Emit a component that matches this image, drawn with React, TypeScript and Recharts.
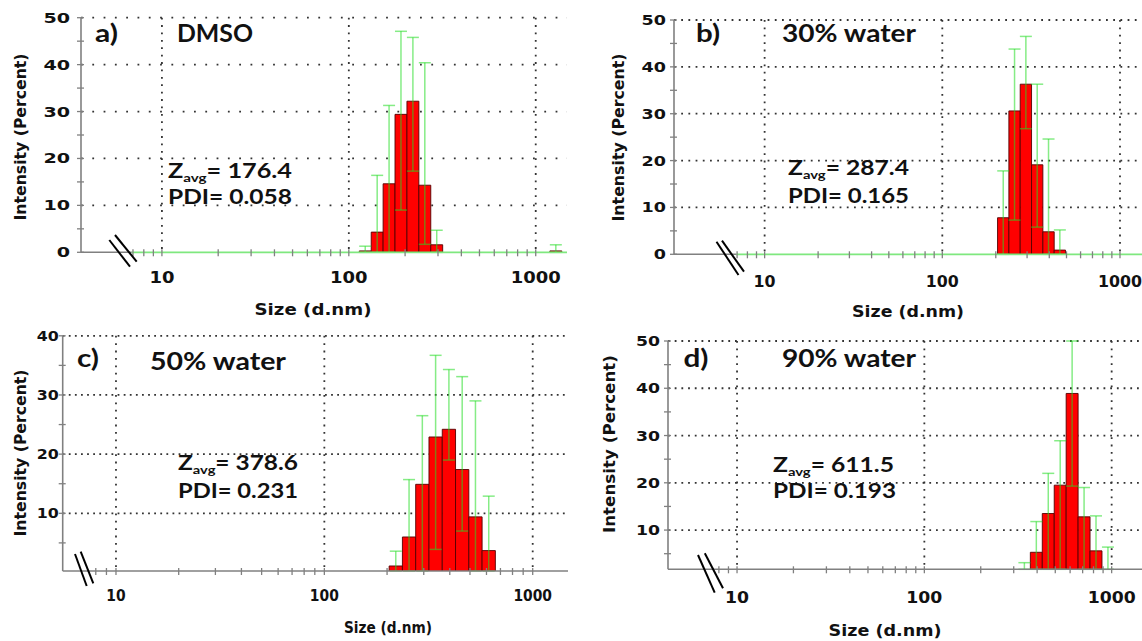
import React from 'react';
import {
  ComposedChart,
  XAxis,
  YAxis,
  CartesianGrid,
  ReferenceArea,
  ReferenceLine,
  Scatter,
  ErrorBar,
} from 'recharts';

const PAGE_W = 1142;
const PAGE_H = 641;

// Malvern size classes: every bin is this factor wider than the one before
const BIN_RATIO = 1.1581;
const HALF_BIN = Math.sqrt(BIN_RATIO);

// a) DMSO  (bin centre in nm, intensity %, error bar ends %)
const dmsoSizes = [122.4, 141.8, 164.2, 190.1, 220.2, 255.0, 295.3, 1281];
const dmsoIntensity = [0.3, 4.3, 14.6, 29.4, 32.2, 14.3, 1.6, 0.3];
const dmsoErrLow = [-0.7, -7.8, -2.1, 9.0, 17.3, 1.7, -1.5, -1.0];
const dmsoErrHigh = [1.3, 16.4, 31.3, 47.1, 45.8, 40.4, 4.7, 1.6];

// b) 30% water
const w30Sizes = [220.2, 255.0, 295.3, 342.0, 396.1, 458.7];
const w30Intensity = [7.8, 30.6, 36.3, 19.1, 4.8, 0.9];
const w30ErrLow = [-2.2, 7.3, 26.8, 5.8, -15.0, -3.4];
const w30ErrHigh = [17.8, 43.8, 46.5, 36.3, 24.6, 5.2];

// c) 50% water
const w50Sizes = [220.2, 255.0, 295.3, 342.0, 396.1, 458.7, 531.2, 615.1];
const w50Intensity = [1.1, 6.0, 14.9, 22.9, 24.2, 17.4, 9.4, 3.7];
const w50ErrLow = [-1.3, -3.7, -1.0, 3.9, 19.0, 7.0, -10.2, -5.5];
const w50ErrHigh = [3.6, 15.7, 26.5, 36.7, 34.3, 33.1, 29.0, 12.9];

// d) 90% water
const w90Sizes = [342.0, 396.1, 458.7, 531.2, 615.1, 712.4, 825.0, 955.4];
const w90Intensity = [0.5, 5.3, 13.5, 19.5, 38.9, 12.8, 5.6, 0.5];
const w90ErrLow = [-2.1, -1.2, -1.0, -1.0, 19.3, -1.0, -1.8, -5.4];
const w90ErrHigh = [3.1, 11.8, 22.0, 28.9, 56.0, 19.0, 13.0, 6.4];

const xTicksFrom7 = [7, 8, 9, 10, 20, 30, 40, 50, 60, 70, 80, 90, 100, 200, 300, 400, 500, 600, 700, 800, 900, 1000];
const xTicksFrom8 = [8, 9, 10, 20, 30, 40, 50, 60, 70, 80, 90, 100, 200, 300, 400, 500, 600, 700, 800, 900, 1000];
const xTickLabels = [10, 100, 1000];
const xGrid = [10, 100, 1000];
const yTicks0to50 = [0, 5, 10, 15, 20, 25, 30, 35, 40, 45, 50];
const yTicks5to50 = [5, 10, 15, 20, 25, 30, 35, 40, 45, 50];
const yTicks5to40 = [5, 10, 15, 20, 25, 30, 35, 40];
const yGrid50 = [10, 20, 30, 40, 50];
const yGrid40 = [10, 20, 30, 40];

// where the instrument's green zero line starts, right after the axis break
const GREEN_FROM = 6.9;

const AXIS = '#808080';
const DOTS = '#333';
const BAR = '#ff0000';
const BAR_EDGE = '#550000';
const ERR = '#22dd22';
const BASE_GREEN = '#7fe87f';
const LABEL_FONT = 'DejaVu Sans';
const NOTE_FONT = 'Lato';

type Txt = [number, number, number];

type Panel = {
  tag: string;
  title: string;
  zavg: string;
  pdi: string;
  sizes: number[];
  intensity: number[];
  errLow: number[];
  errHigh: number[];
  xTicks: number[];
  yTicks: number[];
  yGrid: number[];
  xDomain: [number, number];
  yDomain: [number, number];
  plot: { left: number; right: number; top: number; bottom: number };
  greenBase: boolean;
  xCw: number;
  yCw: number;
  xLabelDy: number;
  yGap: number;
  dotH: number;
  text: { tag: Txt; title: Txt; z: Txt; pdi: Txt; xTitle: Txt; yTitle: Txt };
  breaks: number[][];
};

const panels: Panel[] = [
  {
    tag: 'a)', title: 'DMSO', zavg: '176.4', pdi: '0.058',
    sizes: dmsoSizes, intensity: dmsoIntensity, errLow: dmsoErrLow, errHigh: dmsoErrHigh,
    xTicks: xTicksFrom7, yTicks: yTicks0to50, yGrid: yGrid50,
    xDomain: [3.69, 1470], yDomain: [0, 50],
    plot: { left: 81, right: 567, top: 17.7, bottom: 252.3 },
    greenBase: true, xCw: 12.5, yCw: 13.3, xLabelDy: 31, yGap: 11, dotH: 11.3,
    text: {
      tag: [95, 42, 23], title: [177, 42, 76], z: [168, 178, 124], pdi: [168, 204, 124],
      xTitle: [313, 315, 117], yTitle: [21, 137, 167],
    },
    breaks: [[109.3, 240, 130, 266.7], [115, 235, 136.7, 261.7]],
  },
  {
    tag: 'b)', title: '30% water', zavg: '287.4', pdi: '0.165',
    sizes: w30Sizes, intensity: w30Intensity, errLow: w30ErrLow, errHigh: w30ErrHigh,
    xTicks: xTicksFrom7, yTicks: yTicks0to50, yGrid: yGrid50,
    xDomain: [3.09, 1330], yDomain: [0, 50],
    plot: { left: 674, right: 1142, top: 20, bottom: 254.3 },
    greenBase: true, xCw: 11, yCw: 12.2, xLabelDy: 32.7, yGap: 8, dotH: 7.2,
    text: {
      tag: [696, 42, 24], title: [782, 42, 134], z: [788, 175, 121], pdi: [788, 203, 121],
      xTitle: [908, 317, 112], yTitle: [618.5, 137.5, 168],
    },
    breaks: [[716.5, 241.7, 738.5, 275], [722, 240.7, 744, 271.7]],
  },
  {
    tag: 'c)', title: '50% water', zavg: '378.6', pdi: '0.231',
    sizes: w50Sizes, intensity: w50Intensity, errLow: w50ErrLow, errHigh: w50ErrHigh,
    xTicks: xTicksFrom8, yTicks: yTicks5to40, yGrid: yGrid40,
    xDomain: [5.55, 1477], yDomain: [0.25, 40],
    plot: { left: 62.7, right: 568, top: 335.8, bottom: 571 },
    greenBase: false, xCw: 9.65, yCw: 11, xLabelDy: 29.7, yGap: 4, dotH: 6.1,
    text: {
      tag: [77, 367, 22], title: [150, 370, 136], z: [178, 470, 120], pdi: [178, 498, 120],
      xTitle: [388, 633, 88], yTitle: [21, 453, 167],
    },
    breaks: [[75, 554, 86.7, 586], [80.7, 551.7, 93.3, 583.3]],
  },
  {
    tag: 'd)', title: '90% water', zavg: '611.5', pdi: '0.193',
    sizes: w90Sizes, intensity: w90Intensity, errLow: w90ErrLow, errHigh: w90ErrHigh,
    xTicks: xTicksFrom8, yTicks: yTicks5to50, yGrid: yGrid50,
    xDomain: [4.28, 1452], yDomain: [1.7, 50],
    plot: { left: 668, right: 1142, top: 341, bottom: 569.3 },
    greenBase: false, xCw: 12, yCw: 12, xLabelDy: 33.7, yGap: 8, dotH: 6.7,
    text: {
      tag: [683.5, 367, 25], title: [782, 367, 134], z: [773, 472, 121], pdi: [773, 498, 123],
      xTitle: [885, 636, 113], yTitle: [610, 444, 178],
    },
    breaks: [[698, 555, 714.7, 592.7], [704.8, 553.3, 723, 588.3]],
  },
];

const XTick = ({ x, y, payload, p }: any) => {
  const v = payload.value;
  const label = xTickLabels.includes(v) ? String(v) : null;
  return (
    <g>
      <line x1={x} x2={x} y1={y - 3} y2={y + 4} stroke={AXIS} strokeWidth={1.3} />
      {label && (
        <text
          x={x}
          y={y + p.xLabelDy}
          textAnchor="middle"
          fontFamily={LABEL_FONT}
          fontWeight="bold"
          fontSize={15}
          textLength={label.length * p.xCw}
          lengthAdjust="spacingAndGlyphs"
          fill="#111"
        >
          {label}
        </text>
      )}
    </g>
  );
};

const YTick = ({ x, y, payload, p }: any) => {
  const v = payload.value;
  const label = v % 10 === 0 ? String(v) : null;
  return (
    <g>
      <line x1={x - 4} x2={x + 3} y1={y} y2={y} stroke={AXIS} strokeWidth={1.3} />
      {label && (
        <text
          x={x - p.yGap}
          y={y + 5}
          textAnchor="end"
          fontFamily={LABEL_FONT}
          fontWeight="bold"
          fontSize={14}
          textLength={label.length * p.yCw}
          lengthAdjust="spacingAndGlyphs"
          fill="#111"
        >
          {label}
        </text>
      )}
    </g>
  );
};

function PanelChart({ p }: { p: Panel }) {
  const [yMin, yMax] = p.yDomain;
  // error bars are cut at the frame of the plot, as in the instrument's export
  const rows = p.sizes.map((size, i) => {
    const v = p.intensity[i];
    const lo = Math.max(p.errLow[i], yMin);
    const hi = Math.min(p.errHigh[i], yMax);
    return { size, value: v, err: [v - lo, hi - v] };
  });

  return (
    <div style={{ position: 'absolute', left: 0, top: 0 }}>
      <ComposedChart
        width={PAGE_W}
        height={PAGE_H}
        margin={{
          top: p.plot.top,
          left: p.plot.left - 1,
          right: PAGE_W - p.plot.right,
          bottom: PAGE_H - p.plot.bottom - 1,
        }}
      >
        <CartesianGrid
          horizontal={false}
          verticalValues={xGrid}
          stroke={DOTS}
          strokeWidth={1.8}
          strokeDasharray="1.8 5.6"
        />
        <CartesianGrid
          vertical={false}
          horizontalValues={p.yGrid}
          stroke={DOTS}
          strokeWidth={1.8}
          strokeDasharray={`1.8 ${p.dotH - 1.8}`}
        />
        <XAxis
          type="number"
          dataKey="size"
          scale="log"
          domain={p.xDomain}
          allowDataOverflow
          ticks={p.xTicks}
          interval={0}
          height={1}
          tickSize={0}
          tickMargin={0}
          tickLine={false}
          axisLine={p.greenBase ? false : { stroke: AXIS, strokeWidth: 1.6 }}
          tick={(props: any) => <XTick {...props} p={p} />}
        />
        <YAxis
          type="number"
          domain={p.yDomain}
          allowDataOverflow
          ticks={p.yTicks}
          interval={0}
          width={1}
          tickSize={0}
          tickMargin={0}
          tickLine={false}
          axisLine={{ stroke: AXIS, strokeWidth: 1.6 }}
          tick={(props: any) => <YTick {...props} p={p} />}
        />
        {rows.map((r, i) => (
          <ReferenceArea
            key={`bar-${i}`}
            x1={r.size / HALF_BIN}
            x2={r.size * HALF_BIN}
            y1={0}
            y2={r.value}
            fill={BAR}
            fillOpacity={1}
            stroke={BAR_EDGE}
            strokeWidth={0.9}
            ifOverflow="hidden"
          />
        ))}
        <Scatter data={rows} dataKey="value" isAnimationActive={false} shape={() => <g />}>
          <ErrorBar
            dataKey="err"
            direction="y"
            width={6}
            stroke={ERR}
            strokeWidth={1.5}
            strokeOpacity={0.55}
          />
        </Scatter>
        {p.greenBase && (
          <ReferenceLine
            segment={[{ x: p.xDomain[0], y: 0 }, { x: GREEN_FROM, y: 0 }]}
            stroke={AXIS}
            strokeWidth={1.6}
          />
        )}
        {p.greenBase && (
          <ReferenceLine
            segment={[{ x: GREEN_FROM, y: 0 }, { x: p.xDomain[1], y: 0 }]}
            stroke={BASE_GREEN}
            strokeWidth={1.8}
          />
        )}
      </ComposedChart>
    </div>
  );
}

function Notes({ p }: { p: Panel }) {
  const t = p.text;
  const common = { fontWeight: 700, fill: '#111', lengthAdjust: 'spacingAndGlyphs' } as any;
  return (
    <g>
      <text x={t.tag[0]} y={t.tag[1]} fontFamily={NOTE_FONT} fontSize={24} textLength={t.tag[2]} {...common}>
        {p.tag}
      </text>
      <text x={t.title[0]} y={t.title[1]} fontFamily={NOTE_FONT} fontSize={24} textLength={t.title[2]} {...common}>
        {p.title}
      </text>
      <text x={t.z[0]} y={t.z[1]} fontFamily={NOTE_FONT} fontSize={20} textLength={t.z[2]} {...common}>
        Z<tspan fontSize={12} dy={4}>avg</tspan>
        <tspan dy={-4}>= {p.zavg}</tspan>
      </text>
      <text x={t.pdi[0]} y={t.pdi[1]} fontFamily={NOTE_FONT} fontSize={20} textLength={t.pdi[2]} {...common}>
        PDI= {p.pdi}
      </text>
      <text
        x={t.xTitle[0]}
        y={t.xTitle[1]}
        textAnchor="middle"
        fontFamily={LABEL_FONT}
        fontSize={15}
        textLength={t.xTitle[2]}
        {...common}
      >
        Size (d.nm)
      </text>
      <text
        transform={`translate(${t.yTitle[0]},${t.yTitle[1]}) rotate(-90)`}
        y={5}
        textAnchor="middle"
        fontFamily={LABEL_FONT}
        fontSize={15}
        textLength={t.yTitle[2]}
        {...common}
      >
        Intensity (Percent)
      </text>
      {p.breaks.map((b, i) => (
        <line key={i} x1={b[0]} y1={b[1]} x2={b[2]} y2={b[3]} stroke="#000" strokeWidth={2} />
      ))}
    </g>
  );
}

export default function App() {
  return (
    <div
      style={{
        position: 'absolute',
        left: 0,
        top: 0,
        width: PAGE_W,
        height: PAGE_H,
        overflow: 'hidden',
        background: '#fff',
      }}
    >
      {panels.map((p) => (
        <PanelChart key={p.tag} p={p} />
      ))}
      <svg
        width={PAGE_W}
        height={PAGE_H}
        style={{ position: 'absolute', left: 0, top: 0, pointerEvents: 'none' }}
      >
        {panels.map((p) => (
          <Notes key={p.tag} p={p} />
        ))}
      </svg>
    </div>
  );
}
